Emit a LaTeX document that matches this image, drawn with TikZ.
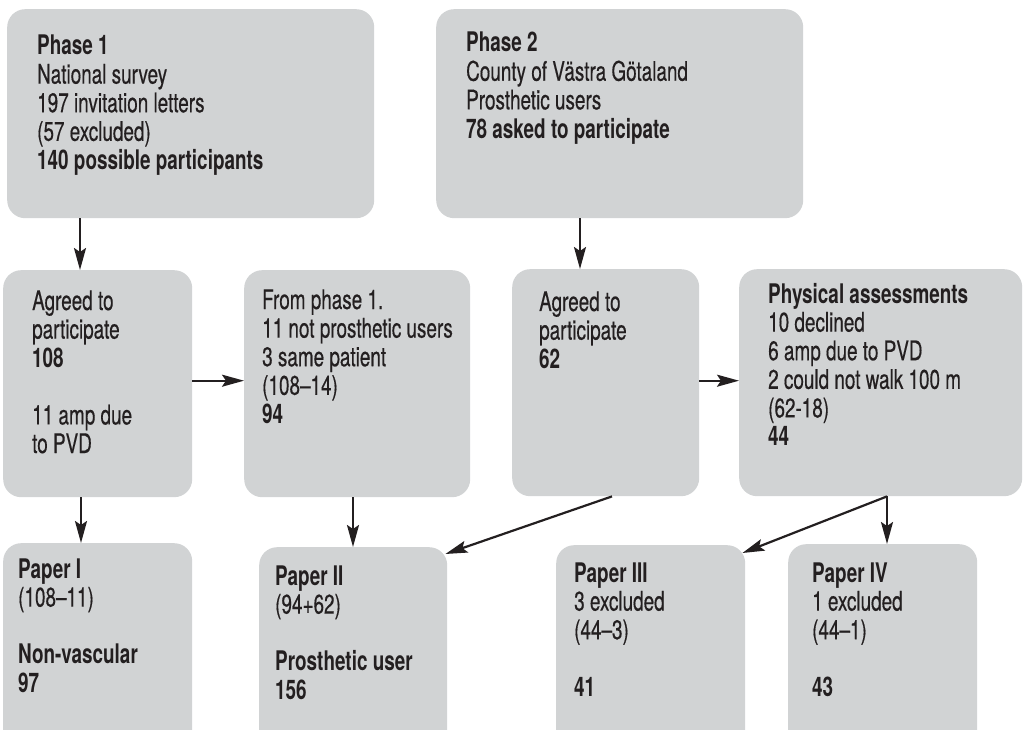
\documentclass[tikz,border=0pt]{standalone}
\usepackage{fontspec}
\setmainfont[FakeStretch=0.70, UprightFeatures={FakeBold=0.4}]{TeX Gyre Heros}
\usetikzlibrary{arrows.meta}
\definecolor{boxgray}{HTML}{D1D3D4}
\definecolor{ink}{HTML}{231F20}
\newcommand\blk[1]{\begin{tabular}[t]{@{}l@{}}#1\end{tabular}}
\begin{document}
\begin{tikzpicture}[x=1pt,y=-1pt,
  box/.style={fill=boxgray, draw=none, rounded corners=18pt, anchor=north west, inner sep=0pt, shape=rectangle},
  txt/.style={anchor=base west, inner sep=0pt, text=ink, font=\fontsize{27}{28.6}\selectfont},
  arr/.style={draw=ink, line width=2.2pt, -{Stealth[length=22pt,width=12pt,inset=4pt]}}]
\useasboundingbox (0,0) rectangle (1026,730);
\clip (0,0) rectangle (1026,730);
% boxes
\node[box, minimum width=367pt, minimum height=209pt] (p1) at (7,9) {};
\node[box, minimum width=367pt, minimum height=209pt] (p2) at (436,9) {};
\node[box, minimum width=189pt, minimum height=227pt] (a1) at (3,270) {};
\node[box, minimum width=226pt, minimum height=227pt] (b1) at (244,270) {};
\node[box, minimum width=187pt, minimum height=227pt] (a2) at (512,269) {};
\node[box, minimum width=283pt, minimum height=227pt] (ph) at (739,269) {};
\node[box, minimum width=189pt, minimum height=210pt] (q1) at (3,543) {};
\node[box, minimum width=188pt, minimum height=210pt] (q2) at (259,547) {};
\node[box, minimum width=189pt, minimum height=210pt] (q3) at (556,545) {};
\node[box, minimum width=189pt, minimum height=210pt] (q4) at (788,544) {};
% texts
\node[txt] (tp1) at (37,55) {\blk{\textbf{Phase 1}\\National survey\\197 invitation letters\\(57 excluded)\\\textbf{140 possible participants}}};
\node[txt] (tp2) at (466,52) {\blk{\textbf{Phase 2}\\County of Västra Götaland\\Prosthetic users\\\textbf{78 asked to participate}}};
\node[txt] (ta1) at (32,310) {\blk{Agreed to\\participate\\\textbf{108}\\ \\11 amp due\\to PVD}};
\node[txt] (tb1) at (262,309) {\blk{From phase 1.\\11 not prosthetic users\\3 same patient\\(108–14)\\\textbf{94}}};
\node[txt] (ta2) at (539,311) {\blk{Agreed to\\participate\\\textbf{62}}};
\node[txt] (tph) at (768,303) {\blk{\textbf{Physical assessments}\\10 declined\\6 amp due to PVD\\2 could not walk 100 m\\(62-18)\\\textbf{44}}};
\node[txt] (tq1) at (18,578) {\blk{\textbf{Paper I}\\(108–11)\\ \\\textbf{Non-vascular}\\\textbf{97}}};
\node[txt] (tq2) at (275,585) {\blk{\textbf{Paper II}\\(94+62)\\ \\\textbf{Prosthetic user}\\\textbf{156}}};
\node[txt] (tq3) at (574,582) {\blk{\textbf{Paper III}\\3 excluded\\(44–3)\\ \\\textbf{41}}};
\node[txt] (tq4) at (812,582) {\blk{\textbf{Paper IV}\\1 excluded\\(44–1)\\ \\\textbf{43}}};
% arrows
\draw[arr] ([xshift=73pt]p1.south west) -- ([xshift=77pt]a1.north west);
\draw[arr] ([xshift=144pt]p2.south west) -- ([xshift=68pt]a2.north west);
\draw[arr] ([yshift=3pt]a1.east) -- ([yshift=3pt]a1.east -| b1.west);
\draw[arr] ([yshift=2pt]a2.east) -- ([yshift=2pt]a2.east -| ph.west);
\draw[arr] ([xshift=78pt]a1.south west) -- ([xshift=78pt]q1.north west);
\draw[arr] ([xshift=109pt]b1.south west) -- ([xshift=94pt]q2.north west);
\draw[arr] ([xshift=100pt]a2.south west) -- ([xshift=-2pt,yshift=-7pt]q2.north east);
\draw[arr] ([xshift=148pt]ph.south west) -- ([xshift=-3pt,yshift=-8pt]q3.north east);
\draw[arr] ([xshift=148pt]ph.south west) -- ([xshift=99pt]q4.north west);
\end{tikzpicture}
\end{document}
